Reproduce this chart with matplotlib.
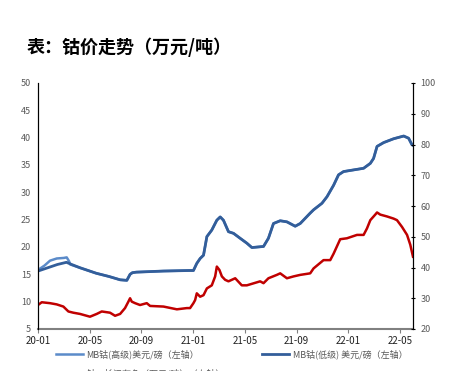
import matplotlib
matplotlib.use("Agg")
import matplotlib.pyplot as plt

plt.rcParams['font.family'] = ['Noto Sans CJK SC', 'DejaVu Sans']

# months since 2020-01
tick_pos = [0, 4, 8, 12, 16, 20, 24, 28]
tick_labels = ["20-01", "20-05", "20-09", "21-01", "21-05", "21-09", "22-01", "22-05"]

# MB cobalt high grade (USD/lb, left axis)
hi_m = [0.0, 0.5, 0.93, 1.45, 2.0, 2.22, 2.4, 2.5, 3.25, 4.5, 5.0, 5.5, 6.35, 6.87,
        7.12, 7.3, 7.6, 9.7, 11.7, 12.02, 12.28, 12.54, 12.8, 13.06, 13.44, 13.83,
        14.09, 14.34, 14.73, 15.12, 15.63, 16.15, 16.54, 17.44, 17.82, 18.21, 18.73,
        19.25, 19.89, 20.28, 21.05, 21.31, 21.96, 22.35, 22.86, 23.24, 23.63, 24.4,
        25.18, 25.7, 25.95, 26.22, 26.73, 27.5, 28.28, 28.66, 28.92, 29.0]
hi_v = [15.8, 16.6, 17.5, 17.9, 18.0, 18.1, 17.4, 16.8, 16.2, 15.2, 14.9, 14.6, 14.0, 13.9,
        15.0, 15.3, 15.4, 15.6, 15.7, 15.7, 17.0, 17.9, 18.5, 21.9, 23.1, 24.9,
        25.5, 24.9, 22.8, 22.5, 21.6, 20.7, 19.9, 20.1, 21.6, 24.3, 24.8,
        24.6, 23.8, 24.3, 26.2, 26.8, 28.0, 29.2, 31.3, 33.2, 33.8, 34.1,
        34.4, 35.3, 36.2, 38.4, 39.1, 39.8, 40.3, 39.9, 38.7, 38.6]

# MB cobalt low grade (USD/lb, left axis)
lo_m = [0.0, 0.5, 1.0, 1.5, 2.2, 2.5, 3.25, 4.5, 5.0, 5.5, 6.35, 6.87, 7.12, 7.3, 7.6,
        9.7, 11.7, 12.02, 12.28, 12.54, 12.8, 13.06, 13.44, 13.83, 14.09, 14.34, 14.73,
        15.12, 15.63, 16.15, 16.54, 17.44, 17.82, 18.21, 18.73, 19.25, 19.89, 20.28,
        21.05, 21.31, 21.96, 22.35, 22.86, 23.24, 23.63, 24.4, 25.18, 25.7, 25.95,
        26.22, 26.73, 27.5, 28.28, 28.66, 28.92, 29.0]
lo_v = [15.6, 16.0, 16.4, 16.8, 17.2, 16.9, 16.2, 15.2, 14.9, 14.6, 14.0, 13.9, 15.0, 15.3, 15.4,
        15.6, 15.7, 15.7, 17.0, 17.9, 18.5, 21.9, 23.1, 24.9, 25.5, 24.9, 22.8,
        22.5, 21.6, 20.7, 19.9, 20.1, 21.6, 24.3, 24.8, 24.6, 23.8, 24.3,
        26.2, 26.8, 28.0, 29.2, 31.3, 33.2, 33.8, 34.1, 34.4, 35.3, 36.2,
        38.4, 39.1, 39.8, 40.3, 39.9, 38.7, 38.6]

# Changjiang cobalt (10k CNY/t, right axis)
cj_m = [0.0, 0.29, 0.93, 1.45, 1.96, 2.35, 2.73, 3.25, 4.02, 4.54, 4.93, 5.57, 5.96,
        6.35, 6.73, 6.99, 7.12, 7.25, 7.51, 7.89, 8.41, 8.67, 9.70, 10.74, 11.51,
        11.76, 12.02, 12.15, 12.28, 12.54, 12.8, 13.06, 13.44, 13.70, 13.83, 14.03,
        14.22, 14.47, 14.73, 15.25, 15.76, 16.15, 17.18, 17.44, 17.82, 18.47, 18.73,
        19.25, 19.76, 20.28, 21.05, 21.31, 22.08, 22.6, 22.86, 23.37, 23.89, 24.67,
        25.18, 25.44, 25.7, 26.08, 26.22, 26.47, 26.99, 27.5, 27.76, 28.15, 28.54,
        28.79, 29.0]
cj_v = [27.8, 28.7, 28.4, 28.0, 27.3, 25.7, 25.3, 24.9, 24.0, 24.9, 25.7, 25.3, 24.3,
        24.9, 26.8, 28.9, 30.0, 28.9, 28.4, 27.8, 28.4, 27.5, 27.3, 26.4, 26.8,
        26.8, 28.4, 29.4, 31.6, 30.5, 31.0, 33.2, 34.2, 37.1, 40.3, 39.2,
        37.1, 36.0, 35.5, 36.5, 34.2, 34.2, 35.5, 34.9, 36.5, 37.6, 38.1,
        36.5, 37.1, 37.6, 38.1, 39.7, 42.4, 42.4, 44.5, 49.2, 49.5, 50.6,
        50.6, 52.7, 55.4, 57.2, 57.9, 57.2, 56.6, 55.9, 55.4, 53.2, 50.6,
        47.4, 43.5]

fig = plt.figure(figsize=(4.5, 3.71), dpi=100)
ax = fig.add_axes([38 / 450, 1 - 329 / 371, (413 - 38) / 450, (329 - 83) / 371])
ax2 = ax.twinx()

l1, = ax.plot(hi_m, hi_v, color="#5B8BC9", lw=1.8, label="MB钴(高级)美元/磅（左轴）")
l2, = ax.plot(lo_m, lo_v, color="#335E9A", lw=2.0, label="MB钴(低级) 美元/磅（左轴）")
l3, = ax2.plot(cj_m, cj_v, color="#C00000", lw=1.8, label="钴：长江有色（万元/吨）（右轴）")

ax.set_xlim(0, 29)
ax.set_ylim(5, 50)
ax.set_yticks(range(5, 51, 5))
ax2.set_ylim(20, 100)
ax2.set_yticks(range(20, 101, 10))
ax.set_xticks(tick_pos)
ax.set_xticklabels(tick_labels)

for a in (ax, ax2):
    a.spines["top"].set_visible(False)
ax.spines["left"].set_color("black")
ax.spines["left"].set_linewidth(0.8)
ax2.spines["right"].set_color("black")
ax2.spines["right"].set_linewidth(0.8)
ax.spines["bottom"].set_color("#808080")
ax.spines["bottom"].set_linewidth(1.5)
ax2.spines["bottom"].set_visible(False)

ax.tick_params(axis="y", length=0, labelsize=6.5, labelcolor="#595959", pad=5)
ax.tick_params(axis="x", length=3, color="#808080", labelsize=7, labelcolor="#222222", pad=2)
ax2.tick_params(axis="y", length=3, direction="inout", labelsize=6.5, labelcolor="#595959", pad=4)

fig.text(27 / 450, 1 - 47 / 371, "表：钴价走势（万元/吨）", fontsize=13, fontweight="bold",
         ha="left", va="center")

# column-major fill: put the red entry second so it lands on row two
fig.legend(handles=[l1, l3, l2], loc="upper left", bbox_to_anchor=(52 / 450, 1 - 346 / 371),
           ncol=2, frameon=False, fontsize=6.5, labelcolor="#595959",
           handlelength=3.0, handletextpad=0.4, columnspacing=4.1, labelspacing=1.1,
           borderaxespad=0)

fig.savefig("out.png", dpi=100)
